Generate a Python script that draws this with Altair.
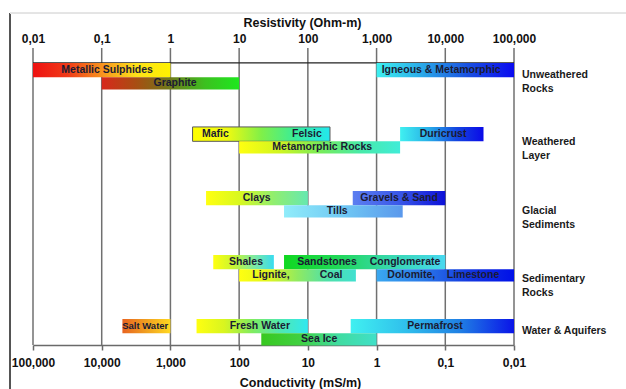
import json
import math
import altair as alt
import pandas as pd

# ---- data ----
res_ticks = [0.01, 0.1, 1, 10, 100, 1000, 10000, 100000]
res_labels = ["0,01", "0,1", "1", "10", "100", "1,000", "10,000", "100,000"]
cond_labels = ["100,000", "10,000", "1,000", "100", "10", "1", "0,1", "0,01"]

group_names = ["Unweathered\nRocks", "Weathered\nLayer", "Glacial\nSediments",
               "Sedimentary\nRocks", "Water & Aquifers"]
group_label_row = [2.0, 7.0, 12.1, 17.2, 21.0]

bar_names = ["Metallic Sulphides", "Graphite", "Igneous & Metamorphic",
             "Mafic-Felsic", "Metamorphic Rocks", "Duricrust",
             "Clays", "Gravels & Sand", "Tills",
             "Shales", "Sandstones-Conglomerate", "Lignite-Coal", "Dolomite-Limestone",
             "Salt Water", "Fresh Water", "Permafrost", "Sea Ice"]
bar_lo = [0.01, 0.1, 1000, 2.1, 10, 2200, 3.3, 450, 45, 4.2, 45, 10, 1000, 0.2, 2.4, 420, 21]
bar_hi = [1, 10, 100000, 210, 2200, 36000, 100, 10000, 2400, 32, 10000, 500, 100000, 1, 100, 100000, 1000]
bar_group = [0, 0, 0, 1, 1, 1, 2, 2, 2, 3, 3, 3, 3, 4, 4, 4, 4]
bar_lane = [0, 1, 0, 0, 1, 0, 0, 0, 1, 0, 0, 1, 1, 0, 0, 0, 1]
bar_colors = [
    ["#ee1111", "#f03a18", "#f7931e", "#fde11a", "#fff200"],
    ["#d8281c", "#a84e12", "#6e7a1a", "#3cc020", "#1ee81e"],
    ["#3ef0f0", "#2aa8e8", "#1a50e0", "#0a0af0"],
    ["#ffff00", "#f0fa10", "#80f048", "#38ec9a", "#22e8f0"],
    ["#ffff10", "#d0f520", "#78ec58", "#48eaa8", "#40ecd8"],
    ["#40f0f0", "#28b0e8", "#1448e0", "#0a0ae8"],
    ["#ffff10", "#d8f820", "#90ee70", "#66e8b0"],
    ["#5c7ef0", "#3a58e8", "#0c10d8"],
    ["#90ecfa", "#70c8f4", "#5a98ec"],
    ["#ffff10", "#c8f530", "#80eaa0", "#38dcf0"],
    ["#10d820", "#20d858", "#38d8b0", "#48d8f0"],
    ["#ffff10", "#e0f520", "#90ea60", "#50e0a8", "#40e0d0"],
    ["#3aa8f0", "#2a7ae8", "#1438e0", "#0010e8"],
    ["#e86420", "#f0a020", "#ffd820"],
    ["#ffff10", "#d8f520", "#80ec60", "#50e8b0", "#30e8f0"],
    ["#40f0f0", "#30c0ec", "#2080e4", "#0a14e8"],
    ["#38c820", "#40d040", "#40dca0", "#40e0c8"],
]

label_text = ["Metallic Sulphides", "Graphite", "Igneous & Metamorphic",
              "Mafic", "Felsic", "Metamorphic Rocks", "Duricrust",
              "Clays", "Gravels & Sand", "Tills",
              "Shales", "Sandstones", "Conglomerate", "Lignite,", "Coal",
              "Dolomite,", "Limestone",
              "Salt Water", "Fresh Water", "Permafrost", "Sea Ice"]
label_res = [0.12, 1.17, 8700, 4.5, 97, 162, 9300, 18, 2130, 268,
             12.6, 190, 2600, 29, 218, 3200, 25300, 0.43, 20, 7100, 146]
label_group = [0, 0, 0, 1, 1, 1, 1, 2, 2, 2, 3, 3, 3, 3, 3, 3, 3, 4, 4, 4, 4]
label_lane = [0, 1, 0, 0, 0, 1, 0, 0, 0, 1, 0, 0, 0, 1, 1, 1, 1, 0, 0, 0, 1]

# ---- layout constants ----
W, H = 481, 297
FONT = "Liberation Sans"
Y_MAX = 22.07
G0, GSTEP, L0H, L1H = 1.11, 4.755, 1.07, 0.90

xscale = alt.Scale(type="log", domain=[res_ticks[0], res_ticks[-1]], nice=False)
yscale = alt.Scale(domain=[0, Y_MAX], reverse=True, nice=False, zero=False)

idx = f"round(log(datum.value)/LN10)+{-round(math.log10(res_ticks[0]))}"
top_expr = f"{json.dumps(res_labels)}[{idx}]"
bot_expr = f"{json.dumps(cond_labels)}[{idx}]"

top_axis = alt.Axis(orient="top", values=res_ticks, labelExpr=top_expr,
                    title="Resistivity (Ohm-m)", ticks=False, tickSize=0, domain=False,
                    grid=False, labelFont=FONT, labelFontWeight="bold", labelFontSize=12,
                    labelColor="#111111", labelPadding=3, labelFlush=False,
                    titleFont=FONT, titleFontWeight="bold", titleFontSize=12.5,
                    titleColor="#111111", titleX=269, titleY=-22,
                    titleBaseline="alphabetic")

bot_axis = alt.Axis(orient="bottom", values=res_ticks, labelExpr=bot_expr,
                    title="Conductivity (mS/m)", domainColor="#6a6a6a", domainWidth=1.5,
                    tickColor="#6a6a6a", tickWidth=1.5, tickSize=5, grid=False,
                    labelFont=FONT, labelFontWeight="bold", labelFontSize=12,
                    labelColor="#111111", labelPadding=7, labelFlush=False,
                    titleFont=FONT, titleFontWeight="bold", titleFontSize=12.5,
                    titleColor="#111111", titleX=267, titleY=41,
                    titleBaseline="alphabetic")

bars = pd.DataFrame({"name": bar_names, "lo": bar_lo, "hi": bar_hi,
                     "group": bar_group, "lane": bar_lane})
labels = pd.DataFrame({"text": label_text, "res": label_res,
                       "group": label_group, "lane": label_lane})
groups = pd.DataFrame({"g": group_names, "row": group_label_row})
ticks_df = pd.DataFrame({"r": res_ticks})

top_calc = f"{G0} + {GSTEP}*datum.group + (datum.lane == 0 ? 0 : {L0H})"
bot_calc = f"{G0} + {GSTEP}*datum.group + (datum.lane == 0 ? {L0H} : {L0H + L1H})"
mid_calc = f"{G0} + {GSTEP}*datum.group + (datum.lane == 0 ? {L0H/2} : {L0H + L1H/2})"

# frame lines of the original picture
frame_v = alt.Chart(ticks_df).mark_rule(color="#555555", strokeWidth=1.2).encode(
    x=alt.value(-23), y=alt.value(-35), y2=alt.value(H + 44))
frame_h = alt.Chart(ticks_df).mark_rule(color="#e4e4e4", strokeWidth=1).encode(
    x=alt.value(-23), x2=alt.value(W + 112), y=alt.value(-35))

grid = alt.Chart(ticks_df).mark_rule(color="#707070", strokeWidth=1.5).encode(
    x=alt.X("r:Q", scale=xscale, axis=top_axis),
    y=alt.value(0), y2=alt.value(H))

top_line = alt.Chart(ticks_df).transform_aggregate(
    lo="min(r)", hi="max(r)").mark_rule(color="#222222", strokeWidth=1.2).encode(
    x=alt.X("lo:Q", scale=xscale, axis=None),
    x2="hi:Q",
    y=alt.datum(G0, scale=yscale, axis=None))

layers = [frame_v, frame_h, grid, top_line]
outlined = {"Mafic-Felsic"}
for name, cols in zip(bar_names, bar_colors):
    n = len(cols)
    grad = alt.Gradient(gradient="linear",
                        stops=[alt.GradientStop(color=c, offset=i / (n - 1)) for i, c in enumerate(cols)],
                        x1=0, x2=1, y1=0, y2=0)
    mk = dict(fill=grad, opacity=1)
    if name in outlined:
        mk.update(stroke="#5a5a5a", strokeWidth=1)
    layer = alt.Chart(bars).transform_filter(alt.datum.name == name).transform_calculate(
        yt=top_calc, yb=bot_calc).mark_rect(**mk).encode(
        x=alt.X("lo:Q", scale=xscale, axis=None), x2="hi:Q",
        y=alt.Y("yt:Q", scale=yscale, axis=None), y2="yb:Q")
    layers.append(layer)

text_layer = alt.Chart(labels).transform_calculate(ym=mid_calc).mark_text(
    font=FONT, fontWeight="bold", color="#1b1b33", baseline="middle", align="center").encode(
    x=alt.X("res:Q", scale=xscale, axis=bot_axis),
    y=alt.Y("ym:Q", scale=yscale, axis=None),
    text="text:N",
    size=alt.condition(alt.datum.text == "Salt Water", alt.value(9.5), alt.value(10.5)))
layers.append(text_layer)

group_layer = alt.Chart(groups).mark_text(
    font=FONT, fontWeight="bold", fontSize=10.5, color="#1a1a1a", align="left",
    baseline="middle", lineBreak="\n", lineHeight=14).encode(
    x=alt.value(W + 8),
    y=alt.Y("row:Q", scale=yscale, axis=None),
    text="g:N")
layers.append(group_layer)

chart = alt.layer(*layers).resolve_axis(x="independent").properties(
    width=W, height=H, autosize="none",
    padding={"left": 33, "top": 48, "right": 112, "bottom": 44},
    background="white").configure_view(stroke=None)

chart.save("out.html", embed_options={"renderer": "svg", "actions": False})
